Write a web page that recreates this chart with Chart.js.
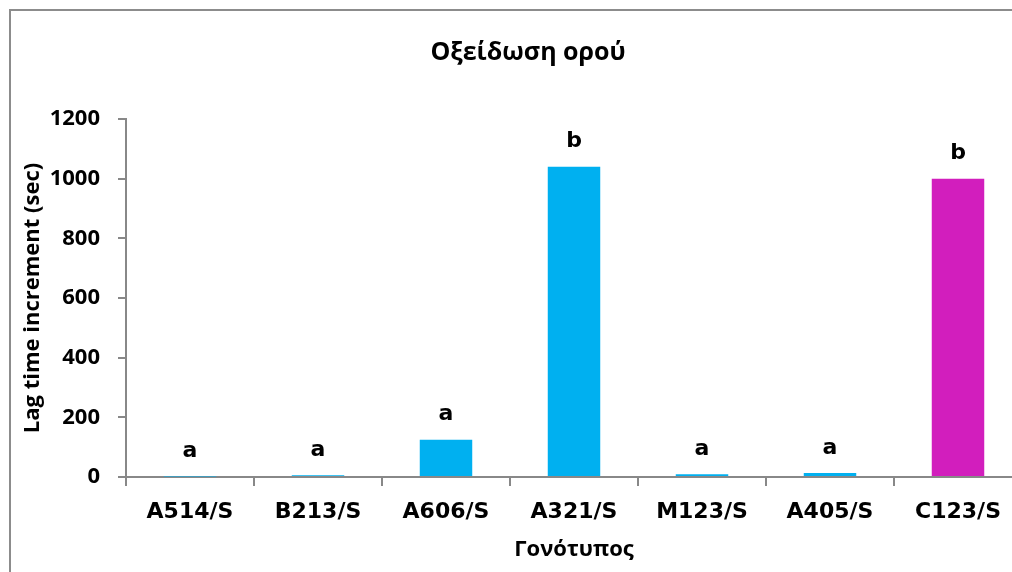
<!DOCTYPE html>
<html>
<head>
<meta charset="utf-8">
<script src="https://cdn.jsdelivr.net/npm/chart.js@4"></script>
<style>
  html, body { margin: 0; padding: 0; background: #fff; overflow: hidden; }
  #wrap { position: absolute; left: 0; top: 0; width: 1056px; height: 572px; }
</style>
</head>
<body>
<div id="wrap"><canvas id="chart"></canvas></div>
<script>
// Genotypes and their serum-oxidation lag time increment (sec)
const genotypes = ['A514/S', 'B213/S', 'A606/S', 'A321/S', 'M123/S', 'A405/S', 'C123/S'];
const lagIncrement = [2, 6, 125, 1040, 9, 13, 1000];
const groupLetters = ['a', 'a', 'a', 'b', 'a', 'a', 'b'];
const barColors = ['#00B0F0', '#00B0F0', '#00B0F0', '#00B0F0', '#00B0F0', '#00B0F0', '#D21EBD'];
const yTicks = [0, 200, 400, 600, 800, 1000, 1200];

const axisGray = '#888888';

// Outer chart frame (top and left edges fall inside the page)
const framePlugin = {
  id: 'chartFrame',
  beforeDraw(chart) {
    const ctx = chart.ctx;
    ctx.save();
    ctx.strokeStyle = '#8c8c8c';
    ctx.lineWidth = 2;
    ctx.beginPath();
    ctx.moveTo(10, chart.height + 10);
    ctx.lineTo(10, 10);
    ctx.lineTo(chart.width + 10, 10);
    ctx.stroke();
    ctx.restore();
  }
};

// Significance-group letters above each bar
const letterPlugin = {
  id: 'groupLetters',
  afterDatasetsDraw(chart) {
    const ctx = chart.ctx;
    const meta = chart.getDatasetMeta(0);
    ctx.save();
    ctx.font = 'bold 22px "DejaVu Sans"';
    ctx.fillStyle = '#000';
    ctx.textAlign = 'center';
    ctx.textBaseline = 'middle';
    meta.data.forEach((bar, i) => {
      ctx.fillText(groupLetters[i], bar.x, bar.y - 25);
    });
    ctx.restore();
  }
};

new Chart(document.getElementById('chart'), {
  type: 'bar',
  data: {
    labels: genotypes,
    datasets: [{
      data: lagIncrement,
      backgroundColor: barColors,
      borderWidth: 0,
      barPercentage: 0.41,
      categoryPercentage: 1.0
    }]
  },
  options: {
    responsive: true,
    maintainAspectRatio: false,
    animation: false,
    layout: { padding: 0 },
    plugins: {
      legend: { display: false },
      tooltip: { enabled: false },
      title: {
        display: true,
        text: 'Οξείδωση ορού',
        color: '#000',
        font: { family: '"Open Sans"', size: 25, weight: 'bold', lineHeight: 1.2 },
        padding: { top: 38, bottom: 51 }
      }
    },
    scales: {
      x: {
        grid: {
          offset: true,
          drawOnChartArea: false,
          drawTicks: true,
          tickLength: 9,
          color: axisGray,
          lineWidth: 2
        },
        border: { color: axisGray, width: 2 },
        ticks: {
          color: '#000',
          font: { family: '"DejaVu Sans"', size: 22, weight: 'bold' },
          padding: 13,
          maxRotation: 0
        },
        title: {
          display: true,
          text: 'Γονότυπος',
          color: '#000',
          font: { family: '"Open Sans"', size: 22, weight: 'bold', lineHeight: 1.2 },
          padding: { top: 0, bottom: 9 }
        },
        afterFit(scale) { scale.height = 95; }
      },
      y: {
        min: 0,
        max: 1200,
        afterBuildTicks(scale) { scale.ticks = yTicks.map(v => ({ value: v })); },
        grid: {
          drawOnChartArea: false,
          drawTicks: true,
          tickLength: 8,
          color: axisGray,
          lineWidth: 2
        },
        border: { color: axisGray, width: 2 },
        ticks: {
          color: '#000',
          font: { family: '"Open Sans"', size: 22, weight: 'bold' },
          padding: 18,
          callback: (value) => String(value)
        },
        title: {
          display: true,
          text: 'Lag time increment (sec)',
          color: '#000',
          font: { family: '"Open Sans"', size: 22, weight: 'bold', lineHeight: 1.2 },
          padding: { top: 20, bottom: 0 }
        },
        afterFit(scale) { scale.width = 126; }
      },
      // empty right-hand margin so the chart area ends where the axis runs off the page
      yRight: {
        position: 'right',
        display: true,
        grid: { display: false, drawTicks: false },
        border: { display: false },
        ticks: { display: false },
        afterFit(scale) { scale.width = 34; }
      }
    }
  },
  plugins: [framePlugin, letterPlugin]
});
</script>
</body>
</html>
